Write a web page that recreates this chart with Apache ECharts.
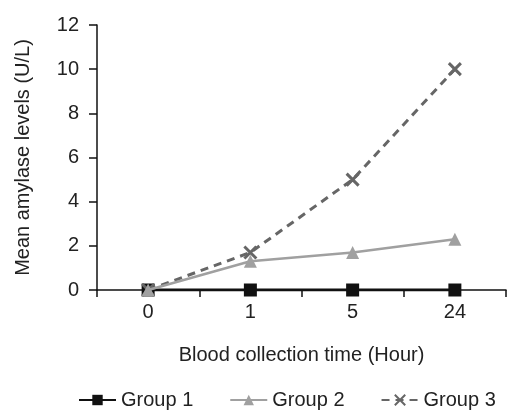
<!DOCTYPE html>
<html>
<head>
<meta charset="utf-8">
<script src="https://cdn.jsdelivr.net/npm/echarts@6/dist/echarts.min.js"></script>
<style>
html, body { margin: 0; padding: 0; background: #fff; }
#chart { width: 509px; height: 410px; }
</style>
</head>
<body>
<div id="chart"></div>
<script>
// collection times (hour)
var categories = ['0', '1', '5', '24'];
var group1 = [0, 0, 0, 0];
var group2 = [0, 1.3, 1.7, 2.3];
var group3 = [0, 1.7, 5, 10];
var yTicks = [0, 2, 4, 6, 8, 10, 12];

var font = 'Arial, "Liberation Sans", sans-serif';

var chart = echarts.init(document.getElementById('chart'));
chart.setOption({
	animation: false,
	textStyle: { fontFamily: font },
	grid: { left: 97, right: 3, top: 25, bottom: 120 },
	legend: {
		top: 385,
		left: 73,
		itemWidth: 37,
		itemHeight: 13,
		itemGap: 36,
		textStyle: { fontSize: 20, color: '#222', fontFamily: font },
		data: ['Group 1', 'Group 2', 'Group 3']
	},
	xAxis: {
		type: 'category',
		data: categories,
		boundaryGap: true,
		name: 'Blood collection time (Hour)',
		nameLocation: 'middle',
		nameGap: 55,
		nameTextStyle: { fontSize: 20, color: '#222' },
		axisLine: { lineStyle: { color: '#111', width: 1.5 } },
		axisTick: { show: true, length: 7, lineStyle: { color: '#111', width: 1.5 } },
		axisLabel: { fontSize: 20, color: '#222', margin: 12 }
	},
	yAxis: {
		type: 'value',
		min: yTicks[0],
		max: yTicks[yTicks.length - 1],
		interval: 2,
		name: 'Mean amylase levels (U/L)',
		nameLocation: 'middle',
		nameGap: 64,
		nameTextStyle: { fontSize: 20, color: '#222' },
		splitLine: { show: false },
		axisLine: { show: true, lineStyle: { color: '#111', width: 1.5 } },
		axisTick: { show: true, length: 8, lineStyle: { color: '#111', width: 1.5 } },
		axisLabel: { fontSize: 20, color: '#222', margin: 18 }
	},
	series: [{
		name: 'Group 3',
		type: 'line',
		data: group3,
		symbol: 'path://M0,0 L10,10 M10,0 L0,10',
		symbolSize: 12,
		color: '#666',
		lineStyle: { color: '#666', width: 3, type: [8, 6] },
		itemStyle: { color: 'none', borderColor: '#666', borderWidth: 3 },
		z: 2
	}, {
		name: 'Group 2',
		type: 'line',
		data: group2,
		symbol: 'triangle',
		symbolSize: 13,
		color: '#a0a0a0',
		lineStyle: { color: '#a0a0a0', width: 2.5 },
		itemStyle: { color: '#a0a0a0' },
		z: 3
	}, {
		name: 'Group 1',
		type: 'line',
		data: group1,
		symbol: 'rect',
		symbolSize: 13,
		color: '#111',
		lineStyle: { color: '#111', width: 3 },
		itemStyle: { color: '#111' },
		z: 1
	}]
});
</script>
</body>
</html>
